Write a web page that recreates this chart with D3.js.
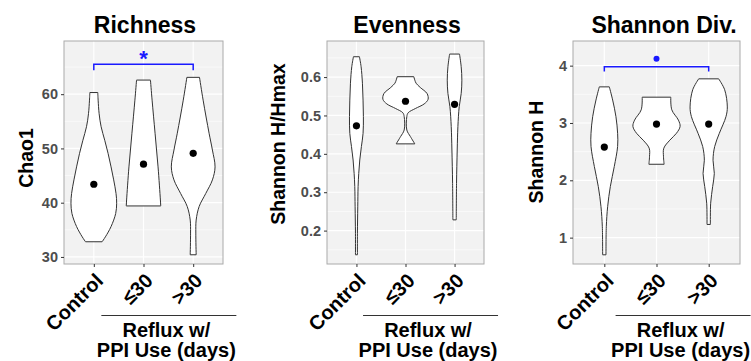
<!DOCTYPE html>
<html lang="en">
<head>
<meta charset="utf-8">
<title>Alpha diversity by PPI use</title>
<script src="https://d3js.org/d3.v7.min.js"></script>
<style>
  body { margin: 0; background: #fff; }
  svg text { font-family: "Liberation Sans", Arial, sans-serif; font-weight: bold; }
</style>
</head>
<body>
<svg width="751" height="361"></svg>
<script>
var categories = ["Control", "\u226430", ">30"];

// violin outlines: [value, half width as a fraction of the category step]
var richnessShapes = [
  [[60.3,0.08],[58.9,0.087],[56.4,0.107],[54.0,0.147],[51.5,0.22],[49.1,0.287],[46.6,0.347],
   [44.2,0.40],[41.7,0.447],[39.9,0.46],[38.0,0.44],[35.6,0.347],[33.7,0.233],[32.8,0.167]],
  [[62.6,0.14],[58.9,0.173],[52.8,0.233],[46.6,0.293],[40.5,0.34],[39.4,0.347]],
  [[63.1,0.127],[58.9,0.2],[52.8,0.32],[49.7,0.387],[46.6,0.44],[44.2,0.387],[41.7,0.253],
   [39.3,0.12],[36.8,0.06],[34.4,0.053],[30.4,0.06]]
];
var richnessMeans = [43.4, 47.1, 49.1];
var richnessTicks = [30, 40, 50, 60];
var richnessMinor = [35, 45, 55, 65];
var richnessDomain = [28.7, 69.8];
var richnessSig = [0, 2, 65.5, 64.4, 66.9];   // from, to, bar, tick end, mark

var evennessShapes = [
  [[0.653,0.061],[0.627,0.095],[0.584,0.122],[0.540,0.135],[0.497,0.142],[0.453,0.135],[0.419,0.101],
   [0.384,0.068],[0.349,0.047],[0.315,0.034],[0.262,0.027],[0.193,0.02],[0.137,0.02]],
  [[0.601,0.169],[0.592,0.19],[0.584,0.216],[0.573,0.30],[0.557,0.44],[0.542,0.46],[0.530,0.38],
   [0.518,0.20],[0.507,0.054],[0.497,0.027],[0.462,0.027],[0.445,0.10],[0.426,0.19]],
  [[0.66,0.101],[0.627,0.135],[0.592,0.149],[0.557,0.135],[0.523,0.095],[0.471,0.068],[0.410,0.054],
   [0.323,0.04],[0.228,0.034]]
];
var evennessMeans = [0.473, 0.537, 0.529];
var evennessTicks = [0.2, 0.3, 0.4, 0.5, 0.6];
var evennessMinor = [0.15, 0.25, 0.35, 0.45, 0.55, 0.65];
var evennessDomain = [0.113, 0.694];

var shannonShapes = [
  [[3.63,0.096],[3.40,0.16],[3.11,0.223],[2.82,0.255],[2.59,0.255],[2.24,0.191],[1.89,0.115],
   [1.54,0.064],[1.19,0.038],[0.70,0.032]],
  [[3.45,0.274],[3.23,0.293],[3.05,0.42],[2.94,0.452],[2.82,0.382],[2.70,0.255],[2.56,0.14],
   [2.41,0.134],[2.28,0.146]],
  [[3.77,0.191],[3.58,0.306],[3.28,0.357],[3.11,0.331],[2.82,0.204],[2.59,0.115],[2.35,0.083],
   [2.12,0.108],[1.89,0.076],[1.60,0.038],[1.23,0.032]]
];
var shannonMeans = [2.58, 2.98, 2.98];
var shannonTicks = [1, 2, 3, 4];
var shannonMinor = [1.5, 2.5, 3.5];
var shannonDomain = [0.54, 4.43];
var shannonSig = [0, 2, 3.98, 3.90, 4.12];

var svg = d3.select("svg");
var plotTop = 41, plotBottom = 264;

var panels = [
  {title: "Richness", titleX: 1.5, ylab: "Chao1", labX: 33, labY: 158, left: 64, right: 223,
   shapes: richnessShapes, means: richnessMeans, ticks: richnessTicks, minor: richnessMinor,
   domain: richnessDomain, fmt: d3.format("d"), sig: richnessSig, mark: "star"},
  {title: "Evenness", titleX: 1.5, ylab: "Shannon H/Hmax", labX: 285, labY: 144, left: 327, right: 484,
   shapes: evennessShapes, means: evennessMeans, ticks: evennessTicks, minor: evennessMinor,
   domain: evennessDomain, fmt: d3.format(".1f"), sig: null},
  {title: "Shannon Div.", titleX: 7.5, ylab: "Shannon H", labX: 543, labY: 152, left: 573, right: 740,
   shapes: shannonShapes, means: shannonMeans, ticks: shannonTicks, minor: shannonMinor,
   domain: shannonDomain, fmt: d3.format("d"), sig: shannonSig, mark: "dot"}
];

panels.forEach(function(p) {
  var x = d3.scalePoint().domain(categories).range([p.left, p.right]).padding(0.6);
  var y = d3.scaleLinear().domain(p.domain).range([plotBottom, plotTop]);
  var step = x.step();
  var g = svg.append("g");

  g.append("rect")
    .attr("x", p.left).attr("y", plotTop)
    .attr("width", p.right - p.left).attr("height", plotBottom - plotTop)
    .attr("fill", "#f2f2f2");

  g.selectAll(".minor").data(p.minor).enter().append("line")
    .attr("x1", p.left).attr("x2", p.right)
    .attr("y1", function(d) { return y(d); }).attr("y2", function(d) { return y(d); })
    .attr("stroke", "#fff").attr("stroke-width", 0.6);
  g.selectAll(".major").data(p.ticks).enter().append("line")
    .attr("x1", p.left).attr("x2", p.right)
    .attr("y1", function(d) { return y(d); }).attr("y2", function(d) { return y(d); })
    .attr("stroke", "#fff").attr("stroke-width", 1.2);
  g.selectAll(".vgrid").data(categories).enter().append("line")
    .attr("x1", function(d) { return x(d); }).attr("x2", function(d) { return x(d); })
    .attr("y1", plotTop).attr("y2", plotBottom)
    .attr("stroke", "#fff").attr("stroke-width", 1.2);

  var area = d3.area()
    .curve(d3.curveCatmullRom.alpha(0.5))
    .y(function(d) { return y(d[0]); });

  g.selectAll(".violin").data(p.shapes).enter().append("path")
    .attr("d", function(d, i) {
      var cx = x(categories[i]);
      return area
        .x0(function(e) { return cx - e[1] * step; })
        .x1(function(e) { return cx + e[1] * step; })(d);
    })
    .attr("fill", "#fff").attr("stroke", "#333").attr("stroke-width", 1);

  g.selectAll(".mean").data(p.means).enter().append("circle")
    .attr("cx", function(d, i) { return x(categories[i]); })
    .attr("cy", function(d) { return y(d); })
    .attr("r", 3.6).attr("fill", "#000");

  g.append("rect")
    .attr("x", p.left).attr("y", plotTop)
    .attr("width", p.right - p.left).attr("height", plotBottom - plotTop)
    .attr("fill", "none").attr("stroke", "#aaa").attr("stroke-width", 1);

  if (p.sig) {
    var x1 = x(categories[p.sig[0]]), x2 = x(categories[p.sig[1]]);
    g.append("path")
      .attr("d", "M" + x1 + "," + y(p.sig[3]) + "V" + y(p.sig[2]) + "H" + x2 + "V" + y(p.sig[3]))
      .attr("fill", "none").attr("stroke", "#1a1aff").attr("stroke-width", 1.5);
    if (p.mark === "star") {
      g.append("text").attr("x", (x1 + x2) / 2).attr("y", y(p.sig[4]) + 9)
        .attr("text-anchor", "middle").attr("fill", "#1a1aff")
        .style("font-size", "22px").text("*");
    } else {
      g.append("circle").attr("cx", (x1 + x2) / 2).attr("cy", y(p.sig[4]))
        .attr("r", 3).attr("fill", "#1a1aff");
    }
  }

  var yAxis = g.append("g")
    .attr("transform", "translate(" + p.left + ",0)")
    .call(d3.axisLeft(y).tickValues(p.ticks).tickSize(3).tickPadding(3).tickFormat(p.fmt));
  yAxis.select(".domain").remove();
  yAxis.selectAll("line").attr("stroke", "#333");
  yAxis.selectAll("text").attr("fill", "#4d4d4d")
    .style("font-size", "14.5px");

  var xAxis = g.append("g")
    .attr("transform", "translate(0," + plotBottom + ")")
    .call(d3.axisBottom(x).tickSize(3));
  xAxis.select(".domain").remove();
  xAxis.selectAll("line").attr("stroke", "#333");
  xAxis.selectAll("text")
    .attr("fill", "#000").attr("y", 0).attr("dy", 0)
    .attr("transform", "translate(10,18) rotate(-45)")
    .attr("text-anchor", "end")
    .style("font-size", "20px");

  g.append("text")
    .attr("x", (p.left + p.right) / 2 + p.titleX).attr("y", 33)
    .attr("text-anchor", "middle").attr("fill", "#000")
    .style("font-size", "23px").text(p.title);

  g.append("text")
    .attr("transform", "translate(" + p.labX + "," + p.labY + ") rotate(-90)")
    .attr("text-anchor", "middle").attr("fill", "#000")
    .style("font-size", "19.5px").text(p.ylab);

  var mid = (x(categories[1]) + x(categories[2])) / 2;
  g.append("line")
    .attr("x1", mid - 67).attr("x2", mid + 68)
    .attr("y1", 315.5).attr("y2", 315.5)
    .attr("stroke", "#333").attr("stroke-width", 1.2);
  g.append("text").attr("x", mid - 2).attr("y", 337)
    .attr("text-anchor", "middle").attr("fill", "#000")
    .style("font-size", "20px").text("Reflux w/");
  g.append("text").attr("x", mid - 2).attr("y", 357)
    .attr("text-anchor", "middle").attr("fill", "#000")
    .style("font-size", "20px").text("PPI Use (days)");
});
</script>
</body>
</html>
